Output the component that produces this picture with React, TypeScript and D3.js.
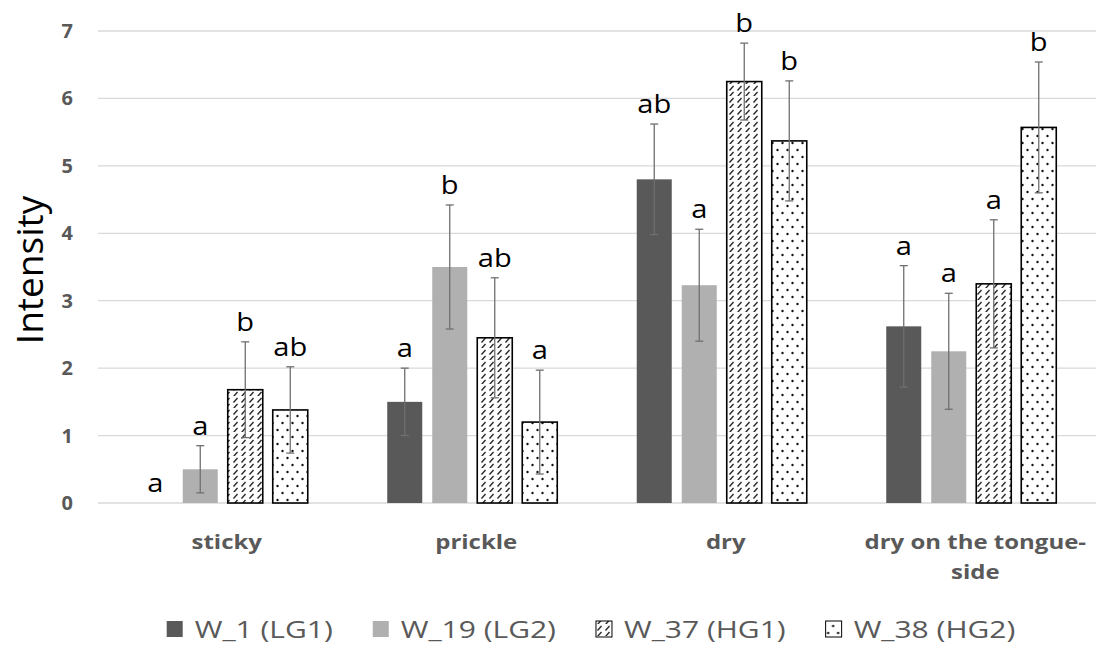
import React, { useRef, useEffect } from "react"
import * as d3 from "d3"

const categories = ["sticky", "prickle", "dry", "dry on the tongue-side"]
const categoryLines = [["sticky"], ["prickle"], ["dry"], ["dry on the tongue-", "side"]]
const seriesNames = ["W_1 (LG1)", "W_19 (LG2)", "W_37 (HG1)", "W_38 (HG2)"]

// means per series, in category order
const w1 = [0, 1.5, 4.8, 2.62]
const w19 = [0.5, 3.5, 3.23, 2.25]
const w37 = [1.68, 2.45, 6.25, 3.25]
const w38 = [1.38, 1.2, 5.37, 5.57]

// error bar half widths
const w1Err = [0, 0.5, 0.82, 0.9]
const w19Err = [0.35, 0.92, 0.83, 0.86]
const w37Err = [0.71, 0.89, 0.57, 0.95]
const w38Err = [0.64, 0.77, 0.89, 0.97]

// significance letters
const w1Letters = ["a", "a", "ab", "a"]
const w19Letters = ["a", "b", "a", "a"]
const w37Letters = ["b", "ab", "b", "a"]
const w38Letters = ["ab", "a", "b", "b"]

const yTicks = [0, 1, 2, 3, 4, 5, 6, 7]

const values = [w1, w19, w37, w38]
const errors = [w1Err, w19Err, w37Err, w38Err]
const letters = [w1Letters, w19Letters, w37Letters, w38Letters]

const W = 1099
const H = 652
const FONT = "'Open Sans', 'Noto Sans', sans-serif"
// the source image is a bit wider than tall, text looks stretched
const SX = 1.2

const App: React.FunctionComponent = () => {
	const svgRef = useRef<any>()

	useEffect(() => {
		const svg = d3.select(svgRef.current)
		svg.selectAll("*").remove()

		const fills = ["#595959", "#b0b0b0", "url(#hatch)", "url(#dots)"]

		const defs = svg.append("defs")
		const hatch = defs
			.append("pattern")
			.attr("id", "hatch")
			.attr("patternUnits", "userSpaceOnUse")
			.attr("width", 8)
			.attr("height", 12)
		hatch.append("rect").attr("width", 8).attr("height", 12).attr("fill", "#fff")
		hatch
			.append("line")
			.attr("x1", 1.5).attr("y1", 6.5).attr("x2", 5.5).attr("y2", 2)
			.attr("stroke", "#222").attr("stroke-width", 1.3)
		hatch
			.append("line")
			.attr("x1", 1.5).attr("y1", 12.5).attr("x2", 5.5).attr("y2", 8)
			.attr("stroke", "#222").attr("stroke-width", 1.3)

		const dots = defs
			.append("pattern")
			.attr("id", "dots")
			.attr("patternUnits", "userSpaceOnUse")
			.attr("width", 10)
			.attr("height", 14)
		dots.append("rect").attr("width", 10).attr("height", 14).attr("fill", "#fff")
		dots.append("circle").attr("cx", 2.5).attr("cy", 3).attr("r", 1.2).attr("fill", "#111")
		dots.append("circle").attr("cx", 7.5).attr("cy", 10).attr("r", 1.2).attr("fill", "#111")

		const x0 = d3.scaleBand().domain(categories).range([98, 1096]).padding(0)
		const x1 = d3
			.scaleBand()
			.domain(seriesNames)
			.range([0, x0.bandwidth()])
			.paddingInner(0.222)
			.paddingOuter(0.883)
		const y = d3.scaleLinear().domain([0, 7]).range([503, 31])

		// grid
		svg
			.append("g")
			.selectAll("line")
			.data(yTicks)
			.join("line")
			.attr("x1", 98)
			.attr("x2", 1096)
			.attr("y1", (d) => y(d))
			.attr("y2", (d) => y(d))
			.attr("stroke", "#d9d9d9")
			.attr("stroke-width", 1.3)

		// y tick labels
		svg
			.append("g")
			.selectAll("text")
			.data(yTicks)
			.join("text")
			.attr("transform", (d) => `translate(73, ${y(d) + 7}) scale(1.05, 1)`)
			.attr("text-anchor", "end")
			.attr("font-family", FONT)
			.attr("font-weight", "bold")
			.attr("font-size", 19)
			.attr("fill", "#595959")
			.text((d) => d)

		// y title
		svg
			.append("text")
			.attr("transform", `translate(43, 270) rotate(-90)`)
			.attr("text-anchor", "middle")
			.attr("font-family", FONT)
			.attr("font-size", 37)
			.attr("fill", "#000")
			.text("Intensity")

		// bars
		seriesNames.forEach((s, si) => {
			const g = svg.append("g")
			const data = categories.map((c, ci) => ({
				c,
				v: values[si][ci],
				e: errors[si][ci],
				l: letters[si][ci],
			}))
			g.selectAll("rect")
				.data(data.filter((d) => d.v > 0))
				.join("rect")
				.attr("x", (d) => x0(d.c)! + x1(s)!)
				.attr("width", x1.bandwidth())
				.attr("y", (d) => y(d.v))
				.attr("height", (d) => y(0) - y(d.v))
				.attr("fill", fills[si])
				.attr("stroke", si >= 2 ? "#000" : "none")
				.attr("stroke-width", 1.6)

			const eg = g.selectAll("g.err").data(data.filter((d) => d.e > 0)).join("g")
			const cx = (d: any) => x0(d.c)! + x1(s)! + x1.bandwidth() / 2
			eg.append("line")
				.attr("x1", cx).attr("x2", cx)
				.attr("y1", (d) => y(d.v + d.e))
				.attr("y2", (d) => y(d.v - d.e))
				.attr("stroke", "#6f6f6f").attr("stroke-width", 1.3)
			eg.append("line")
				.attr("x1", (d) => cx(d) - 4).attr("x2", (d) => cx(d) + 4)
				.attr("y1", (d) => y(d.v + d.e)).attr("y2", (d) => y(d.v + d.e))
				.attr("stroke", "#6f6f6f").attr("stroke-width", 1.3)
			eg.append("line")
				.attr("x1", (d) => cx(d) - 4).attr("x2", (d) => cx(d) + 4)
				.attr("y1", (d) => y(d.v - d.e)).attr("y2", (d) => y(d.v - d.e))
				.attr("stroke", "#6f6f6f").attr("stroke-width", 1.3)

			g.selectAll("text")
				.data(data)
				.join("text")
				.attr("transform", (d) => `translate(${cx(d)}, ${y(d.v + d.e) - 11}) scale(1.12, 1)`)
				.attr("text-anchor", "middle")
				.attr("font-family", FONT)
				.attr("font-size", 26)
				.attr("fill", "#000")
				.text((d) => d.l)
		})

		// category labels
		const cl = svg
			.append("g")
			.selectAll("text")
			.data(categories.map((c, i) => ({ c, lines: categoryLines[i] })))
			.join("text")
			.attr("transform", (d) => `translate(${x0(d.c)! + x0.bandwidth() / 2 + 4}, 549) scale(${SX}, 1)`)
			.attr("text-anchor", "middle")
			.attr("font-family", FONT)
			.attr("font-weight", "bold")
			.attr("font-size", 20)
			.attr("fill", "#595959")
		cl.selectAll("tspan")
			.data((d) => d.lines)
			.join("tspan")
			.attr("x", 0)
			.attr("dy", (d, i) => (i === 0 ? 0 : 30))
			.text((d) => d)

		// legend
		const lg = svg.append("g")
		const items = lg
			.selectAll("g")
			.data(seriesNames)
			.join("g")
		items
			.append("rect")
			.attr("width", 16)
			.attr("height", 16)
			.attr("y", 621)
			.attr("fill", (d, i) => fills[i])
			.attr("stroke", (d, i) => (i >= 2 ? "#000" : "none"))
			.attr("stroke-width", 1)
		items
			.append("text")
			.attr("transform", `translate(28, 638) scale(${SX + 0.05}, 1)`)
			.attr("font-family", FONT)
			.attr("font-size", 24)
			.attr("fill", "#595959")
			.text((d) => d)
		let cursor = 0
		const offsets: number[] = []
		items.each(function () {
			offsets.push(cursor)
			const t = d3.select(this).select("text").node() as SVGTextElement
			cursor += 28 + t.getComputedTextLength() * (SX + 0.05) + 40
		})
		const total = cursor - 40
		const start = 591 - total / 2
		items.attr("transform", (d, i) => `translate(${start + offsets[i]}, 0)`)
	}, [])

	return (
		<svg
			ref={svgRef}
			width={W}
			height={H}
			style={{ position: "absolute", left: 0, top: 0, background: "#fff" }}
		></svg>
	)
}

export default App
